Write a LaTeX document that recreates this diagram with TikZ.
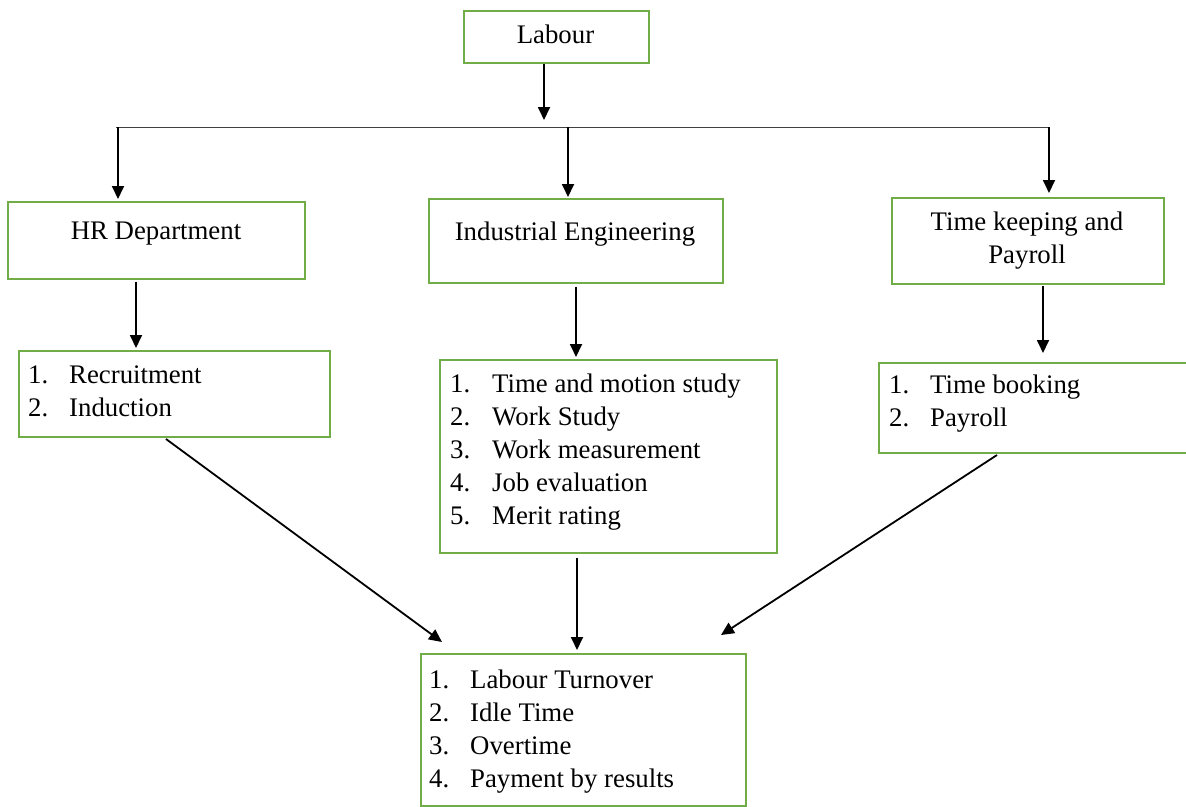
\documentclass[tikz,border=0pt]{standalone}
\usepackage{fontspec}
\setmainfont{Liberation Serif}
\usetikzlibrary{arrows.meta,calc}
\definecolor{boxgreen}{HTML}{70AD47}
\begin{document}
\begin{tikzpicture}[x=1pt,y=-1pt,
  box/.style={draw=boxgreen, line width=1.7pt, fill=white, inner sep=0pt, anchor=north west},
  txt/.style={font=\fontsize{26.8}{33}\selectfont, inner sep=0pt, text=black},
  arr/.style={line width=1.8pt, -{Triangle[length=13pt,width=12pt]}},
  bus/.style={line width=0.9pt, black!75}]
\useasboundingbox (0,0) rectangle (1186,806);

% boxes
\node[box, minimum width=185, minimum height=52] (labour) at (463,10) {};
\node[box, minimum width=297, minimum height=77] (hr) at (7,201) {};
\node[box, minimum width=294, minimum height=84] (ie) at (428,198) {};
\node[box, minimum width=272, minimum height=86] (tk) at (891,197) {};
\node[box, minimum width=311, minimum height=86] (l1) at (18,350) {};
\node[box, minimum width=337, minimum height=193] (l2) at (439,359) {};
\node[box, minimum width=309, minimum height=90] (l3) at (878,362) {};
\node[box, minimum width=325, minimum height=152] (bot) at (420,653) {};

% texts
\node[txt, anchor=base] (labourT) at (555.5,43) {Labour};
\node[txt, anchor=base] (hrT) at (156,239) {HR Department};
\node[txt, anchor=base] (ieT) at (575,240) {Industrial Engineering};
\node[txt, anchor=base] (tkT) at (1027,230) {\begin{tabular}[t]{@{}c@{}}Time keeping and\\Payroll\end{tabular}};
\node[txt, anchor=base west] (l1T) at (28,383) {\begin{tabular}[t]{@{}p{41pt}@{}l@{}}1.&Recruitment\\2.&Induction\end{tabular}};
\node[txt, anchor=base west] (l2T) at (450,392.5) {\begin{tabular}[t]{@{}p{42pt}@{}l@{}}1.&Time and motion study\\2.&Work Study\\3.&Work measurement\\4.&Job evaluation\\5.&Merit rating\end{tabular}};
\node[txt, anchor=base west] (l3T) at (889,393) {\begin{tabular}[t]{@{}p{41pt}@{}l@{}}1.&Time booking\\2.&Payroll\end{tabular}};
\node[txt, anchor=base west] (botT) at (429,688) {\begin{tabular}[t]{@{}p{41pt}@{}l@{}}1.&Labour Turnover\\2.&Idle Time\\3.&Overtime\\4.&Payment by results\end{tabular}};

% coordinates
\coordinate (labTip) at (544,120);
\coordinate (busL) at (118,127);
\coordinate (busM) at (568,127);
\coordinate (busR) at (1049,127);
\coordinate (xA) at (136,300);
\coordinate (xB) at (576,300);
\coordinate (xC) at (1043,300);
\coordinate (xD) at (577,600);
\coordinate (d1a) at (166,439);
\coordinate (d1b) at (442,642);
\coordinate (d3a) at (997,455);
\coordinate (d3b) at (721,635);

% connectors (canvas yshift: positive = up)
\draw[bus] (116,127) -- (busR);
\draw[arr] (labTip |- labour.south) -- (labTip);
\draw[arr] (busL) -- ([yshift=2pt]busL |- hr.north);
\draw[arr] (busM) -- ([yshift=1pt]busM |- ie.north);
\draw[arr] (busR) -- ([yshift=4pt]busR |- tk.north);
\draw[arr] ([yshift=-2pt]hr.south -| xA) -- ([yshift=2pt]l1.north -| xA);
\draw[arr] ([yshift=-3pt]ie.south -| xB) -- ([yshift=2pt]l2.north -| xB);
\draw[arr] ([yshift=-1pt]tk.south -| xC) -- ([yshift=9pt]l3.north -| xC);
\draw[arr] ([yshift=-4pt]l2.south -| xD) -- ([yshift=3pt]bot.north -| xD);
\draw[arr] (d1a) -- (d1b);
\draw[arr] (d3a) -- (d3b);
\end{tikzpicture}
\end{document}
